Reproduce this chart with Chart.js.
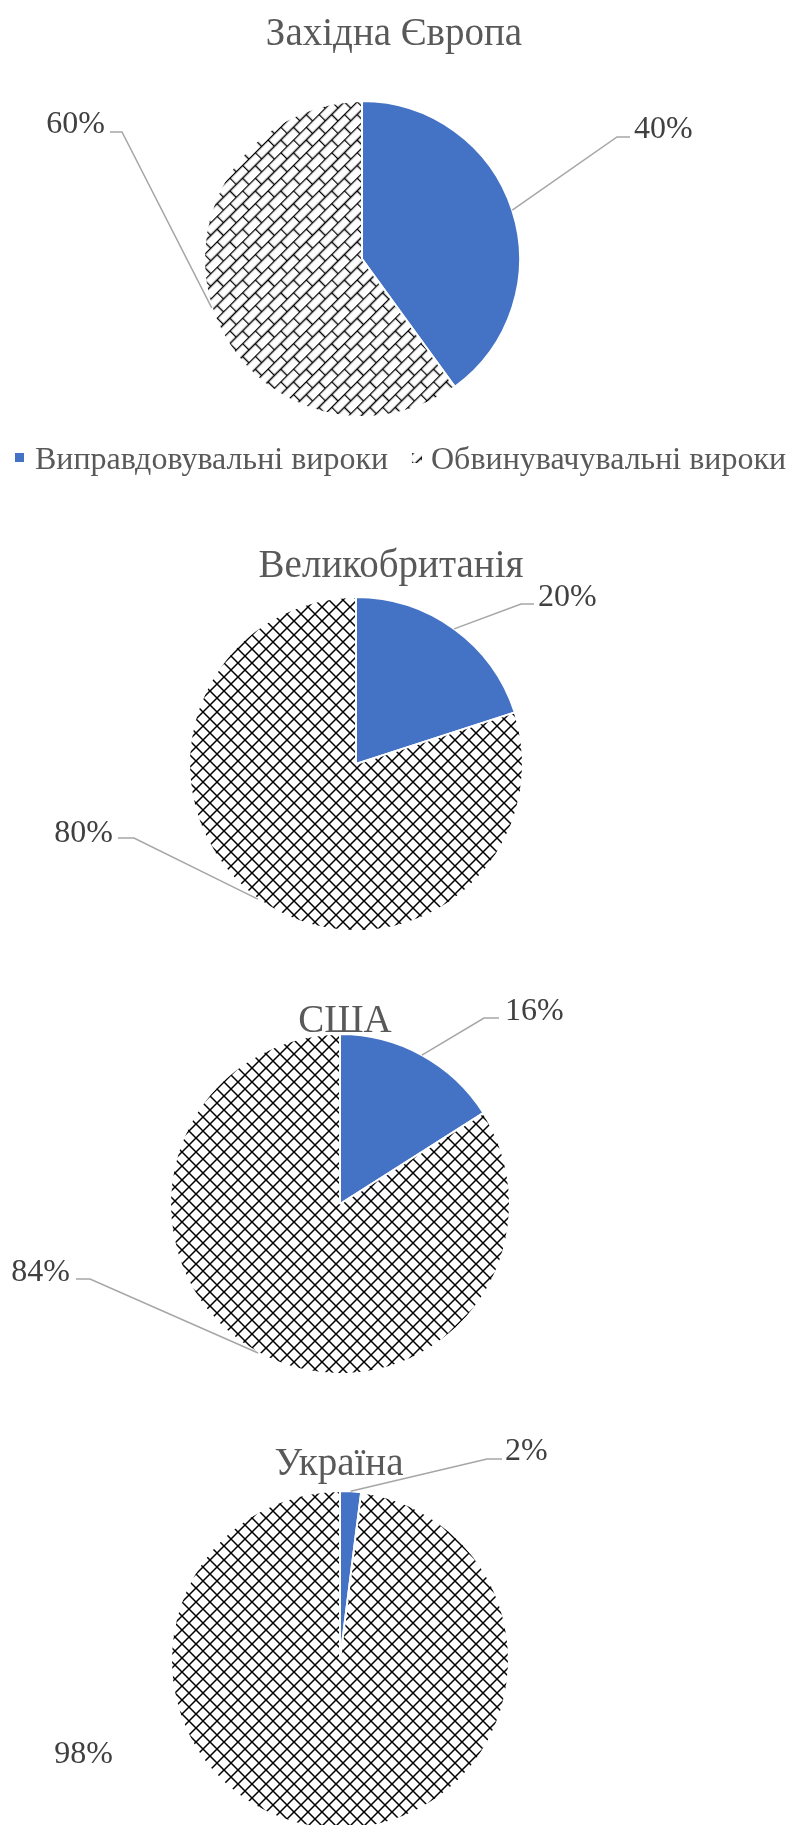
<!DOCTYPE html>
<html lang="uk">
<head>
	<meta charset="utf-8">
	<title>Вироки</title>
	<style>
html, body {
	margin: 0;
	padding: 0;
	background: #fff;
}
body {
	width: 792px;
	height: 1825px;
	overflow: hidden;
	position: relative;
}
canvas {
	position: absolute;
	left: 0;
}
	</style>
</head>
<body>

<canvas id="c0"></canvas>
<canvas id="c1"></canvas>
<canvas id="c2"></canvas>
<canvas id="c3"></canvas>

<script src="https://cdn.jsdelivr.net/npm/chart.js"></script>
<script>
// data
const regions = ['Західна Європа', 'Великобританія', 'США', 'Україна'];
const seriesLabels = ['Виправдовувальні вироки', 'Обвинувачувальні вироки'];
const acquittals = [40, 20, 16, 2];
const convictions = [60, 80, 84, 98];

const BLUE = '#4472C4';
const FONT = '"Liberation Serif", "Times New Roman", serif';

// where each pie sits on the page (page coords)
const layouts = [
	{ top: 0, height: 495, cx: 362, cy: 259, r: 158, pattern: 'brick',
		title: [394, 45],
		labels: [
			{ x: 634, y: 138, align: 'left', elbow: [617, 137], end: [630, 137] },
			{ x: 105, y: 133, align: 'right', elbow: [122, 132], end: [110, 132] }
		],
		legend: true },
	{ top: 495, height: 475, cx: 356, cy: 764, r: 167, pattern: 'diamond',
		title: [391, 577],
		labels: [
			{ x: 538, y: 606, align: 'left', elbow: [521, 604], end: [534, 604] },
			{ x: 113, y: 842, align: 'right', elbow: [134, 838], end: [118, 838] }
		] },
	{ top: 970, height: 450, cx: 340, cy: 1204, r: 170, pattern: 'diamond',
		title: [345, 1032],
		labels: [
			{ x: 505, y: 1020, align: 'left', elbow: [484, 1018], end: [499, 1018] },
			{ x: 70, y: 1281, align: 'right', elbow: [90, 1279], end: [76, 1279] }
		] },
	{ top: 1420, height: 420, cx: 340, cy: 1660, r: 169, pattern: 'diamond',
		title: [339, 1475],
		labels: [
			{ x: 505, y: 1460, align: 'left', elbow: [487, 1459], end: [502, 1459] },
			{ x: 113, y: 1763, align: 'right' }
		] }
];

function makePattern(kind) {
	const tile = document.createElement('canvas');
	const g = tile.getContext('2d');
	let pat;
	if (kind === 'diamond') {
		const s = 14;
		tile.width = tile.height = s;
		g.strokeStyle = '#000';
		g.lineWidth = 1.5;
		g.beginPath();
		g.moveTo(-1, -1); g.lineTo(s + 1, s + 1);
		g.moveTo(s + 1, -1); g.lineTo(-1, s + 1);
		g.stroke();
		pat = g.createPattern(tile, 'repeat');
	} else {
		// staggered bricks, turned 45 degrees
		tile.width = 18;
		tile.height = 18;
		g.strokeStyle = '#000';
		g.lineWidth = 1.4;
		g.beginPath();
		g.moveTo(0, 0.5); g.lineTo(18, 0.5);
		g.moveTo(0, 9.5); g.lineTo(18, 9.5);
		g.moveTo(0.5, 0); g.lineTo(0.5, 9.5);
		g.moveTo(9.5, 9.5); g.lineTo(9.5, 18);
		g.stroke();
		pat = g.createPattern(tile, 'repeat');
		pat.setTransform(new DOMMatrix().rotate(-45));
	}
	return pat;
}

const decor = {
	id: 'decor',
	afterDraw(chart, args, opts) {
		const L = opts.layout;
		const ctx = chart.ctx;
		const meta = chart.getDatasetMeta(0);
		const values = chart.data.datasets[0].data;
		ctx.save();

		// leader lines and data labels
		meta.data.forEach((arc, i) => {
			const p = arc.getProps(['x', 'y', 'startAngle', 'endAngle', 'outerRadius'], true);
			const mid = (p.startAngle + p.endAngle) / 2;
			const lab = L.labels[i];
			if (lab.elbow) {
				ctx.strokeStyle = '#A6A6A6';
				ctx.lineWidth = 1.5;
				ctx.beginPath();
				ctx.moveTo(p.x + Math.cos(mid) * p.outerRadius, p.y + Math.sin(mid) * p.outerRadius);
				ctx.lineTo(lab.elbow[0], lab.elbow[1] - L.top);
				ctx.lineTo(lab.end[0], lab.end[1] - L.top);
				ctx.stroke();
			}
			ctx.font = '32px ' + FONT;
			ctx.fillStyle = '#404040';
			ctx.textAlign = lab.align;
			ctx.textBaseline = 'alphabetic';
			ctx.fillText(values[i] + '%', lab.x, lab.y - L.top);
		});

		// title
		ctx.font = '39px ' + FONT;
		ctx.fillStyle = '#595959';
		ctx.textAlign = 'center';
		ctx.fillText(opts.title, L.title[0], L.title[1] - L.top);

		// legend (first chart only)
		if (L.legend) {
			const colors = chart.data.datasets[0].backgroundColor;
			ctx.font = '32px ' + FONT;
			ctx.textAlign = 'left';
			ctx.fillStyle = colors[0];
			ctx.fillRect(15, 453, 9, 9);
			ctx.fillStyle = '#595959';
			ctx.fillText(chart.data.labels[0], 35, 469);
			ctx.fillStyle = colors[1];
			ctx.fillRect(412, 453, 10, 10);
			ctx.fillStyle = '#595959';
			ctx.fillText(chart.data.labels[1], 431, 469);
		}
		ctx.restore();
	}
};

regions.forEach((name, i) => {
	const L = layouts[i];
	const canvas = document.getElementById('c' + i);
	canvas.width = 792;
	canvas.height = L.height;
	canvas.style.top = L.top + 'px';
	const cy = L.cy - L.top;
	const half = L.r + 1;

	new Chart(canvas, {
		type: 'pie',
		data: {
			labels: seriesLabels,
			datasets: [{
				data: [acquittals[i], convictions[i]],
				backgroundColor: [BLUE, makePattern(L.pattern)],
				borderColor: '#ffffff',
				borderWidth: 2,
				hoverOffset: 0,
				offset: 0
			}]
		},
		options: {
			responsive: false,
			animation: false,
			events: [],
			layout: {
				padding: {
					left: L.cx - half,
					right: 792 - (L.cx + half),
					top: cy - half,
					bottom: L.height - (cy + half)
				}
			},
			plugins: {
				legend: { display: false },
				title: { display: false },
				tooltip: { enabled: false },
				decor: { layout: L, title: name }
			}
		},
		plugins: [decor]
	});
});
</script>
</body>
</html>
